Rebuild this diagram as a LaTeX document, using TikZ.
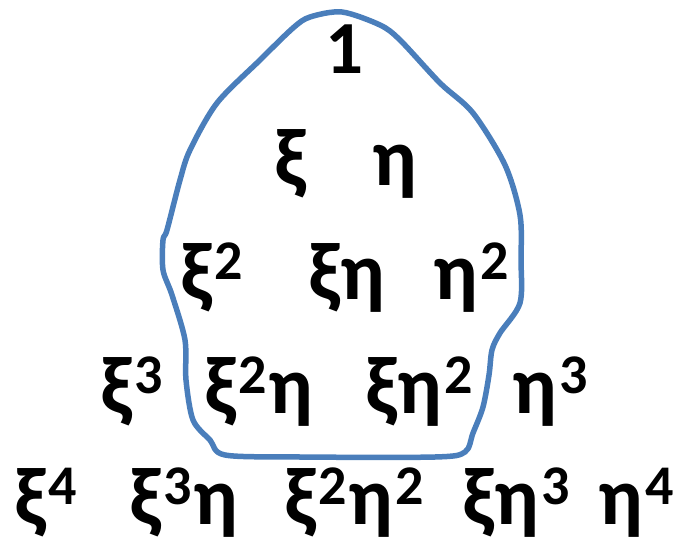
\documentclass[tikz,border=0pt]{standalone}
\usepackage{fontspec}
\setmainfont{Carlito}
\newcommand\gk{\fontsize{82}{84}\selectfont}
\newcommand\dg[1]{\kern2.5pt\raisebox{20pt}{\fontsize{56}{58}\selectfont\bfseries #1}\kern1.5pt}
\newcommand\xx{{\gk ξ}}
\newcommand\ee{{\gk η}}
\tikzset{mono/.style={anchor=base,inner sep=0pt,font=\bfseries},
  blob/.style={draw={rgb,255:red,74;green,126;blue,187},line width=5.5pt,line join=round}}
\begin{document}
\begin{tikzpicture}[x=1pt,y=-1pt]
\useasboundingbox (0,0) rectangle (678,546);
\draw[blob] plot[smooth cycle,tension=0.5] coordinates{
 (342,12) (380,25) (400,40) (440,83) (473,113) (505,165) (520,215) (521,260) (520,303)
 (500,333) (492,350) (489,375) (483,407) (473,433) (465,452) (435,457) (300,457) (225,455)
 (210,440) (193,420) (186,380) (185,340) (172,295) (163,270) (163,240) (167,230) (180,180) (190,150)
 (217,103) (260,60) (293,28) (310,17)};
\node[mono] (n00) at (345,73) {\fontsize{75}{77}\selectfont 1};
\node[mono] (n10) at (290,185) {\xx};
\node[mono] (n11) at (395,185) {\ee};
\node[mono] (n20) at (212,299) {\xx\dg{2}};
\node[mono] (n21) at (347,299) {\xx\ee};
\node[mono] (n22) at (472,299) {\ee\dg{2}};
\node[mono] (n30) at (132,413) {\xx\dg{3}};
\node[mono] (n31) at (259,413) {\xx\dg{2}\ee};
\node[mono] (n32) at (420,413) {\xx\ee\dg{2}};
\node[mono] (n33) at (551,413) {\ee\dg{3}};
\node[mono] (n40) at (46,524) {\xx\dg{4}};
\node[mono] (n41) at (184,524) {\xx\dg{3}\ee};
\node[mono] (n42) at (355,524) {\xx\dg{2}\ee\dg{2}};
\node[mono] (n43) at (517,524) {\xx\ee\dg{3}};
\node[mono] (n44) at (637,524) {\ee\dg{4}};
\end{tikzpicture}
\end{document}
